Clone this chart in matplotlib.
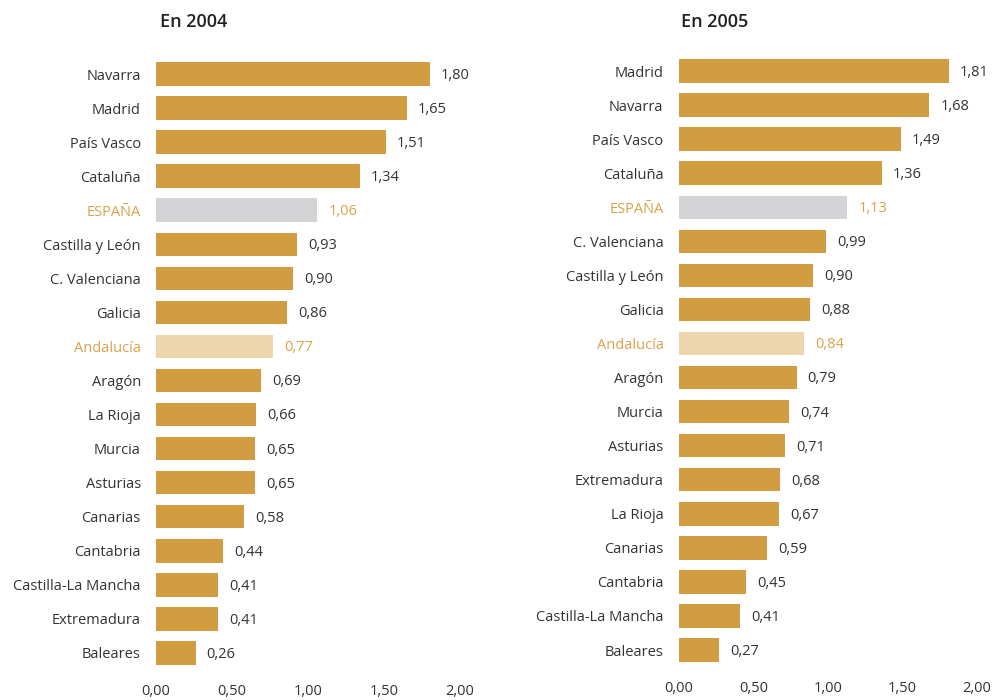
import matplotlib.pyplot as plt

plt.rcParams['font.family'] = ['Open Sans', 'DejaVu Sans']

# valores por comunidad, ordenados de mayor a menor
regiones_2004 = ["Navarra", "Madrid", "País Vasco", "Cataluña", "ESPAÑA",
                 "Castilla y León", "C. Valenciana", "Galicia", "Andalucía",
                 "Aragón", "La Rioja", "Murcia", "Asturias", "Canarias",
                 "Cantabria", "Castilla-La Mancha", "Extremadura", "Baleares"]
valores_2004 = [1.80, 1.65, 1.51, 1.34, 1.06, 0.93, 0.90, 0.86, 0.77,
                0.69, 0.66, 0.65, 0.65, 0.58, 0.44, 0.41, 0.41, 0.26]

regiones_2005 = ["Madrid", "Navarra", "País Vasco", "Cataluña", "ESPAÑA",
                 "C. Valenciana", "Castilla y León", "Galicia", "Andalucía",
                 "Aragón", "Murcia", "Asturias", "Extremadura", "La Rioja",
                 "Canarias", "Cantabria", "Castilla-La Mancha", "Baleares"]
valores_2005 = [1.81, 1.68, 1.49, 1.36, 1.13, 0.99, 0.90, 0.88, 0.84,
                0.79, 0.74, 0.71, 0.68, 0.67, 0.59, 0.45, 0.41, 0.27]

xticks = [0, 0.5, 1.0, 1.5, 2.0]

COLOR_BARRA = '#D29D40'
COLOR_ESPANA = '#D4D4D6'
COLOR_ANDALUCIA = '#EDD5AE'
COLOR_RESALTE = '#D9A24A'
COLOR_TEXTO = '#333333'


def fmt(v):
    return f"{v:.2f}".replace('.', ',')


def dibujar(ax, regiones, valores):
    n = len(regiones)
    colores = []
    for r in regiones:
        if r == "ESPAÑA":
            colores.append(COLOR_ESPANA)
        elif r == "Andalucía":
            colores.append(COLOR_ANDALUCIA)
        else:
            colores.append(COLOR_BARRA)
    y = list(range(n))
    ax.barh(y, valores, height=0.69, color=colores)
    for yi, v, r in zip(y, valores, regiones):
        c = COLOR_RESALTE if r in ("ESPAÑA", "Andalucía") else COLOR_TEXTO
        ax.annotate(fmt(v), (v, yi), xytext=(8, -1), textcoords='offset points',
                    va='center', ha='left', fontsize=10.5, color=c)
    ax.set_yticks(y)
    ax.set_yticklabels(regiones)
    for lbl, r in zip(ax.get_yticklabels(), regiones):
        lbl.set_color(COLOR_RESALTE if r in ("ESPAÑA", "Andalucía") else COLOR_TEXTO)
    ax.set_ylim(n - 0.5, -0.5)
    ax.set_xlim(0, 2.0)
    ax.set_xticks(xticks)
    ax.set_xticklabels([fmt(t) for t in xticks])
    ax.tick_params(axis='y', length=0, pad=11, labelsize=10.5)
    ax.tick_params(axis='x', length=0, pad=10, labelsize=10.5, labelcolor=COLOR_TEXTO)
    for s in ax.spines.values():
        s.set_visible(False)


fig = plt.figure(figsize=(9.94, 7.0), dpi=100)
ax1 = fig.add_axes([0.157, 0.0429, 0.3058, 0.8757])
ax2 = fig.add_axes([0.683, 0.0471, 0.2998, 0.8757])

dibujar(ax1, regiones_2004, valores_2004)
dibujar(ax2, regiones_2005, valores_2005)

fig.text(160 / 994, 1 - 22 / 700, "En 2004", fontsize=13, fontweight='semibold',
         color='#222222', va='center', ha='left')
fig.text(681 / 994, 1 - 22 / 700, "En 2005", fontsize=13, fontweight='semibold',
         color='#222222', va='center', ha='left')

plt.savefig('out.png', dpi=100)
